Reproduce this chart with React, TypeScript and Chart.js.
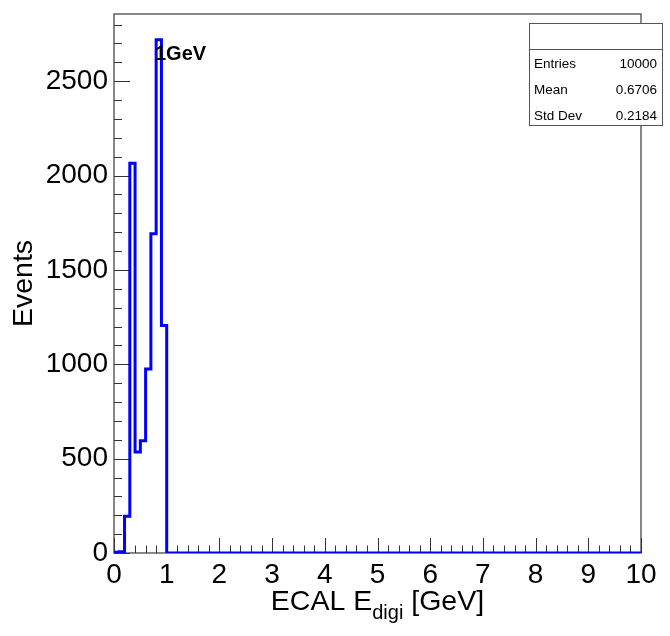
import React, { useEffect, useRef } from 'react';
import { Chart, registerables } from 'chart.js';

Chart.register(...registerables);

// ---- data ----
const binLowEdges = [0, 0.1, 0.2, 0.3, 0.4, 0.5, 0.6, 0.7, 0.8, 0.9, 1.0];
const binCounts = [4, 6, 195, 2065, 535, 595, 975, 1692, 2720, 1205, 0];
const xMin = 0;
const xMax = 10;
const yMin = 0;
const yMax = 2856;
const xTickValues = [0, 1, 2, 3, 4, 5, 6, 7, 8, 9, 10];
const yTickValues = [0, 500, 1000, 1500, 2000, 2500];
const minorDivisions = 5;
const statsLabels = ['Entries', 'Mean', 'Std Dev'];
const statsValues = ['10000', '0.6706', '0.2184'];
const annotationText = '1GeV';
const yTitle = 'Events';
const xTitleMain = 'ECAL E';
const xTitleSub = 'digi';
const xTitleTail = ' [GeV]';

const FONT = "'Liberation Sans', Helvetica, Arial, sans-serif";

const rootPlugin = {
  id: 'rootStyle',
  beforeDatasetsDraw(chart: any) {
    const { ctx, chartArea: a, scales } = chart;
    const xs = scales.x;
    const ys = scales.y;
    ctx.save();
    ctx.strokeStyle = '#3a3a3a';
    ctx.lineWidth = 1.2;
    ctx.strokeRect(a.left, a.top, a.right - a.left, a.bottom - a.top);

    ctx.strokeStyle = '#333';
    ctx.lineWidth = 1;
    // x ticks (inside, from bottom)
    const xt = xs.ticks.map((t: any) => t.value);
    const drawX = (v: number, len: number) => {
      const p = Math.round(xs.getPixelForValue(v)) + 0.5;
      ctx.beginPath();
      ctx.moveTo(p, a.bottom);
      ctx.lineTo(p, a.bottom - len);
      ctx.stroke();
    };
    for (let i = 0; i < xt.length; i++) {
      drawX(xt[i], 15);
      if (i < xt.length - 1) {
        for (let k = 1; k < minorDivisions; k++) {
          drawX(xt[i] + ((xt[i + 1] - xt[i]) * k) / minorDivisions, 7.5);
        }
      }
    }
    // y ticks (inside, from left)
    const yt = ys.ticks.map((t: any) => t.value);
    const drawY = (v: number, len: number) => {
      const p = Math.round(ys.getPixelForValue(v)) + 0.5;
      ctx.beginPath();
      ctx.moveTo(a.left, p);
      ctx.lineTo(a.left + len, p);
      ctx.stroke();
    };
    const ystep = yt.length > 1 ? (yt[1] - yt[0]) / minorDivisions : 0;
    for (let i = 0; i < yt.length; i++) {
      drawY(yt[i], 16);
      for (let k = 1; k < minorDivisions; k++) {
        const v = yt[i] + ystep * k;
        if (v <= ys.max) drawY(v, 8);
      }
    }
    ctx.restore();
  },
  afterDraw(chart: any) {
    const { ctx, chartArea: a } = chart;
    ctx.save();
    // annotation
    ctx.fillStyle = '#000';
    ctx.font = `bold 20px ${FONT}`;
    ctx.textBaseline = 'alphabetic';
    ctx.textAlign = 'left';
    ctx.fillText(annotationText, 155, 60);

    // stats box
    const bx = 529.5, by = 23.5, bw = 133, bh = 102;
    ctx.fillStyle = '#fff';
    ctx.fillRect(bx, by, bw, bh);
    ctx.strokeStyle = '#555';
    ctx.lineWidth = 1;
    ctx.strokeRect(bx, by, bw, bh);
    ctx.beginPath();
    ctx.moveTo(bx, 49.5);
    ctx.lineTo(bx + bw, 49.5);
    ctx.stroke();
    ctx.fillStyle = '#000';
    ctx.font = `13.5px ${FONT}`;
    ctx.textBaseline = 'middle';
    const rowY = [64, 90, 116];
    statsLabels.forEach((l, i) => {
      ctx.textAlign = 'left';
      ctx.fillText(l, 534, rowY[i]);
      ctx.textAlign = 'right';
      ctx.fillText(statsValues[i], 657, rowY[i]);
    });

    // x title with subscript
    const mainFont = `28.5px ${FONT}`;
    const subFont = `20px ${FONT}`;
    ctx.textBaseline = 'alphabetic';
    ctx.textAlign = 'left';
    ctx.font = mainFont;
    const w1 = ctx.measureText(xTitleMain).width;
    const w3 = ctx.measureText(xTitleTail).width;
    ctx.font = subFont;
    const w2 = ctx.measureText(xTitleSub).width;
    const total = w1 + w2 + w3;
    const cx = (a.left + a.right) / 2;
    let x = cx - total / 2;
    const base = 610;
    ctx.font = mainFont;
    ctx.fillText(xTitleMain, x, base);
    x += w1;
    ctx.font = subFont;
    ctx.fillText(xTitleSub, x, base + 9);
    x += w2;
    ctx.font = mainFont;
    ctx.fillText(xTitleTail, x, base);
    ctx.restore();
  },
};

export default function App() {
  const ref = useRef<HTMLCanvasElement | null>(null);
  useEffect(() => {
    if (!ref.current) return;
    const points = binLowEdges.map((x, i) => ({ x, y: binCounts[i] }));
    points.push({ x: xMax, y: 0 });
    const chart = new Chart(ref.current, {
      type: 'line',
      data: {
        datasets: [
          {
            data: points,
            borderColor: '#0000ff',
            borderWidth: 3,
            stepped: 'before',
            pointRadius: 0,
            fill: false,
            tension: 0,
          },
        ],
      },
      options: {
        responsive: false,
        animation: false,
        devicePixelRatio: 1,
        layout: { padding: { top: 14, right: 29, left: 0, bottom: 0 } },
        plugins: { legend: { display: false }, tooltip: { enabled: false } },
        scales: {
          x: {
            type: 'linear',
            min: xMin,
            max: xMax,
            grid: { display: false, drawTicks: false },
            border: { display: false },
            afterBuildTicks: (s: any) => {
              s.ticks = xTickValues.map((v) => ({ value: v }));
            },
            ticks: {
              autoSkip: false,
              maxRotation: 0,
              color: '#000',
              padding: 5,
              font: { family: FONT, size: 28 },
              callback: (v: any) => String(v),
            },
            afterFit: (s: any) => {
              s.height = 83;
              s.paddingLeft = 0;
              s.paddingRight = 0;
            },
          },
          y: {
            type: 'linear',
            min: yMin,
            max: yMax,
            grid: { display: false, drawTicks: false },
            border: { display: false },
            afterBuildTicks: (s: any) => {
              s.ticks = yTickValues.map((v) => ({ value: v }));
            },
            ticks: {
              autoSkip: false,
              color: '#000',
              padding: 6,
              font: { family: FONT, size: 28 },
              callback: (v: any) => String(v),
            },
            title: {
              display: true,
              text: yTitle,
              color: '#000',
              font: { family: FONT, size: 28.5 },
              padding: { top: 7, bottom: 0 },
            },
            afterFit: (s: any) => {
              s.width = 114;
              s.paddingTop = 0;
              s.paddingBottom = 0;
            },
          },
        },
      },
      plugins: [rootPlugin],
    });
    return () => chart.destroy();
  }, []);
  return (
    <div style={{ position: 'fixed', left: 0, top: 0, width: 670, height: 636, background: '#fff' }}>
      <canvas ref={ref} width={670} height={636} />
    </div>
  );
}
